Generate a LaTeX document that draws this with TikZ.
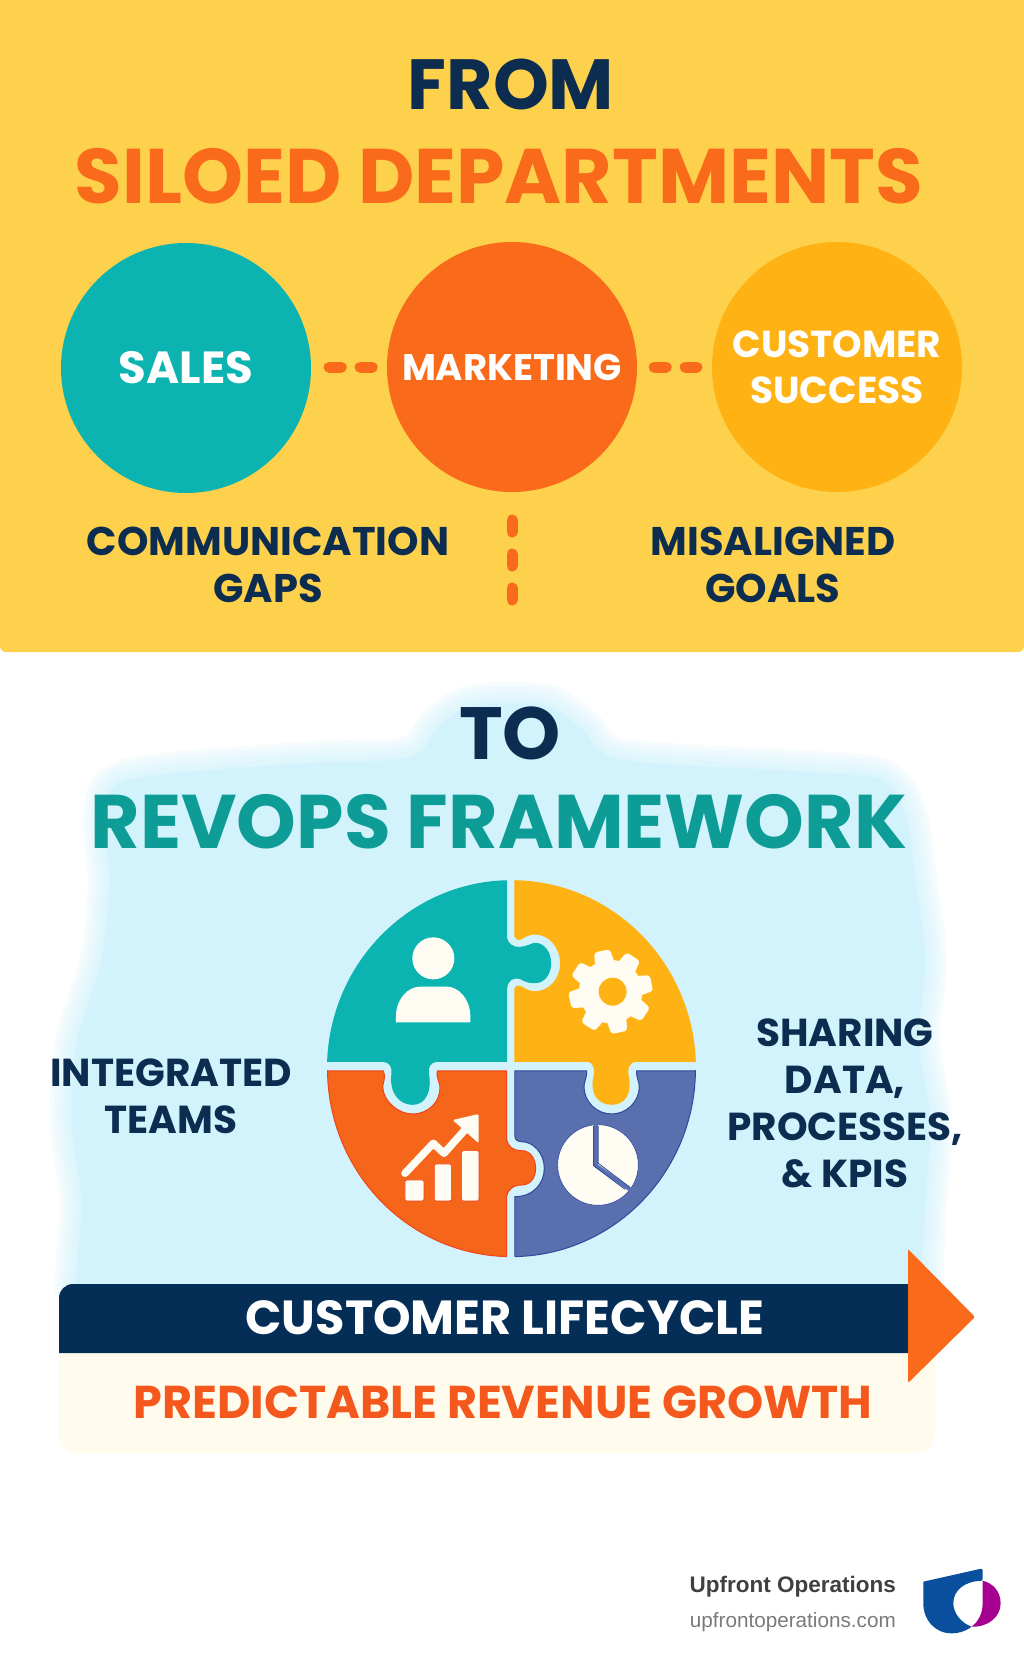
\documentclass[tikz,border=0pt]{standalone}
\usepackage{fontspec}
\setmainfont{Poppins}
\newfontfamily\footfont{Liberation Sans}
\definecolor{panelyellow}{HTML}{FDD14C}
\definecolor{navyink}{HTML}{0C2D50}
\definecolor{barnavy}{HTML}{052E57}
\definecolor{hotorange}{HTML}{F96B1A}
\definecolor{tealfill}{HTML}{0BB4B1}
\definecolor{amberfill}{HTML}{FFB213}
\definecolor{tealtitle}{HTML}{0E9C96}
\definecolor{skyglow}{HTML}{D2F3FC}
\definecolor{creamfill}{HTML}{FFFCEE}
\definecolor{iconcream}{HTML}{FFFDF3}
\definecolor{slatefill}{HTML}{5A6FAE}
\definecolor{slateline}{HTML}{2F4A9E}
\definecolor{chartorange}{HTML}{F5661A}
\definecolor{chartline}{HTML}{F2431A}
\definecolor{redtext}{HTML}{F4581C}
\definecolor{logoblue}{HTML}{0A4F9E}
\definecolor{logopurple}{HTML}{A5008F}
\newcommand{\glowpath}{plot[smooth cycle,tension=.5] coordinates {(440,726) (475,706) (545,706) (582,730) (620,760) (800,772) (880,780) (905,815) (915,880) (925,960) (918,1040) (930,1120) (925,1200) (922,1260) (920,1320) (880,1340) (120,1340) (78,1320) (78,1260) (82,1200) (72,1120) (78,1040) (102,960) (110,880) (105,815) (130,780) (300,764) (410,758)}}
\newcommand{\puzzleclip}{\clip (634.5,626) ellipse [x radius=552,y radius=564];}
\begin{document}
\begin{tikzpicture}[x=1pt,y=-1pt,
  heading/.style={font=\bfseries\fontsize{#1}{#1}\selectfont},
  caps/.style={font=\bfseries\fontsize{#1}{47}\selectfont,align=center,text=navyink},
  silo/.style={circle,minimum size=250,inner sep=0pt,text=white,align=center,font=\bfseries\fontsize{#1}{46}\selectfont},
  gapdash/.style={hotorange,line width=11,line cap=round,dash pattern=on 12 off 19},
  piece/.style={line width=1}]
\useasboundingbox (0,0) rectangle (1024,1666);
\fill[white] (0,0) rectangle (1024,1666);
% top panel
\fill[panelyellow,rounded corners=6] (0,-20) rectangle (1024,652);
\node[heading=71,text=navyink] (from) at (511,84) {FROM};
\node[heading=77.5,text=hotorange] (siloed) at (499,176) {SILOED DEPARTMENTS};
\node[silo=45,fill=tealfill] (sales) at (186,368) {SALES};
\node[silo=37,fill=hotorange] (marketing) at (512,367) {MARKETING};
\node[silo=37.5,fill=amberfill] (success) at (837,367) {CUSTOMER\\SUCCESS};
\draw[gapdash,shorten <=18,shorten >=9] (sales.east |- marketing) -- (marketing.west);
\draw[gapdash,shorten <=17,shorten >=15] (marketing.east) -- (success.west |- marketing);
\coordinate (gapa) at (512,520);
\coordinate (gapb) at (512,600);
\draw[gapdash,dash pattern=on 12 off 22] (gapa) -- (gapb);
\node[caps=40] (commgaps) at (268,565) {COMMUNICATION\\GAPS};
\node[caps=40] (misgoals) at (773,565) {MISALIGNED\\GOALS};
% soft glow behind the framework
\begin{scope}
\clip (0,640) rectangle (1024,1296);
\foreach \w in {44,36,28,20,12,4}
  \path[fill=skyglow,draw=skyglow,opacity=.2,line width=\w] \glowpath;
\fill[skyglow] \glowpath;
\end{scope}
\node[heading=74,text=navyink] (to) at (510,733) {TO};
\node[heading=76,text=tealtitle] (revops) at (499,822) {REVOPS FRAMEWORK};
% puzzle, in 3x crop units
\begin{scope}[shift={(300,860)},x=0.3333pt,y=-0.3333pt]
\begin{scope}
\puzzleclip
\path[piece,fill=tealfill,draw=tealfill] (620,0) -- (0,0) -- (0,604) -- (250,604) .. controls (270,606) and (278,620) .. (276,640) .. controls (268,700) and (300,733) .. (338,733) .. controls (378,733) and (395,690) .. (385,640) .. controls (382,620) and (392,606) .. (410,604) -- (620,604) -- (620,385) .. controls (622,360) and (640,350) .. (660,355) .. controls (680,368) and (695,368) .. (705,368) .. controls (735,368) and (752,340) .. (752,310) .. controls (752,280) and (735,250) .. (705,250) .. controls (695,250) and (680,262) .. (660,262) .. controls (640,265) and (622,250) .. (620,235) -- cycle;
\path[piece,fill=amberfill,draw=amberfill] (645,0) -- (1250,0) -- (1250,604) -- (1005,604) .. controls (988,606) and (980,625) .. (985,650) .. controls (995,700) and (975,733) .. (935,733) .. controls (895,733) and (870,700) .. (882,650) .. controls (887,625) and (880,606) .. (865,604) -- (645,604) -- (645,385) .. controls (650,375) and (660,378) .. (668,382) .. controls (680,392) and (695,395) .. (705,395) .. controls (750,395) and (782,355) .. (782,310) .. controls (782,265) and (750,222) .. (705,222) .. controls (695,222) and (680,226) .. (668,234) .. controls (660,240) and (650,240) .. (645,230) -- cycle;
\path[piece,fill=chartorange,draw=chartline] (0,633) -- (250,633) .. controls (258,650) and (250,665) .. (248,680) .. controls (250,725) and (295,762) .. (338,762) .. controls (385,762) and (422,725) .. (420,680) .. controls (418,665) and (408,650) .. (412,633) -- (620,633) -- (620,835) .. controls (622,860) and (640,872) .. (665,872) .. controls (690,872) and (707,895) .. (707,925) .. controls (707,955) and (690,975) .. (665,975) .. controls (640,975) and (622,990) .. (620,1010) -- (620,1250) -- (0,1250) -- cycle;
\path[piece,fill=slatefill,draw=slateline] (645,633) -- (860,633) .. controls (862,650) and (852,665) .. (852,680) .. controls (852,725) and (890,762) .. (935,762) .. controls (980,762) and (1018,725) .. (1018,680) .. controls (1018,665) and (1008,650) .. (1010,633) -- (1250,633) -- (1250,1250) -- (645,1250) -- (645,1010) .. controls (700,1010) and (733,970) .. (733,925) .. controls (733,880) and (700,845) .. (665,845) .. controls (655,845) and (645,840) .. (645,830) -- cycle;
\end{scope}
\foreach \xa/\ya/\xb/\yb/\c in {0/0/620/604/tealfill,645/0/1250/604/amberfill,0/633/620/1250/chartline,645/633/1250/1250/slateline}{
  \begin{scope}
  \clip (\xa,\ya) rectangle (\xb,\yb);
  \draw[\c,line width=1] (634.5,626) ellipse [x radius=552,y radius=564];
  \end{scope}
}
% person
\fill[iconcream] (400,295) circle [radius=63];
\fill[iconcream] (288,487) -- (288,465) .. controls (290,415) and (325,380) .. (360,380) -- (440,380) .. controls (475,380) and (509,415) .. (511,465) -- (511,487) -- cycle;
% gear
\foreach \a in {0,45,...,315}
  \fill[iconcream,rounded corners=3pt,shift={(932,395)},rotate=\a+12] (-32,70) -- (-24,125) -- (24,125) -- (32,70) -- cycle;
\fill[iconcream] (932,395) circle [radius=95];
\fill[amberfill] (938,395) circle [radius=42];
% bars and arrow
\foreach \xa/\ya/\xb in {315/960/372,403/912/454,485/872/537}
  \filldraw[fill=iconcream,draw=chartline,line width=.6,rounded corners=2pt] (\xa,\ya) rectangle (\xb,1023);
\draw[iconcream,line width=7.5pt,line cap=round,line join=round] (315,940) -- (400,850) -- (432,880) -- (508,795);
\fill[iconcream,rounded corners=2pt] (458,780) -- (536,762) -- (536,850) -- cycle;
% pie
\filldraw[fill=iconcream,draw=slateline,line width=.6] (894,915) circle [radius=121];
\draw[slatefill,line width=4pt] (888,785) -- (888,917) -- (992,990);
\draw[slateline,line width=.8] (881,798) -- (881,917) -- (975,988);
\draw[slateline,line width=.8] (895,798) -- (895,910) -- (990,982);
\end{scope}
\node[caps=39] (integrated) at (171,1096) {INTEGRATED\\TEAMS};
\node[caps=39] (sharing) at (845,1103) {SHARING\\DATA,\\PROCESSES,\\\& KPIS};
% lifecycle bar
\fill[creamfill,rounded corners=18] (59,1340) rectangle (935,1453);
\fill[barnavy] (59,1353) [rounded corners=14] -- (59,1284) [sharp corners] -- (908,1284) -- (908,1353) -- cycle;
\fill[hotorange,rounded corners=2] (908,1249) -- (975,1317) -- (908,1383) -- cycle;
\node[heading=47.8,text=white] (lifecycle) at (505,1318) {CUSTOMER LIFECYCLE};
\node[heading=46,text=redtext] (growth) at (503,1402) {PREDICTABLE REVENUE GROWTH};
% footer and logo
\node[anchor=east,inner sep=0pt,text=black!75,font=\footfont\bfseries\fontsize{22.5}{24}\selectfont] (brand) at (896,1587) {Upfront Operations};
\node[anchor=east,inner sep=0pt,text=black!52,font=\footfont\fontsize{20.7}{21}\selectfont] (site) at (896,1622) {upfrontoperations.com};
\begin{scope}[shift={(660,1540)},x=0.3333pt,y=-0.3333pt]
\fill[logoblue,rounded corners=2pt] (790,125) -- (968,85) -- (968,122) -- (965,122) [sharp corners] .. controls (915,125) and (880,150) .. (880,190) .. controls (880,220) and (905,250) .. (935,260) .. controls (915,275) and (895,280) .. (875,280) .. controls (825,280) and (790,240) .. (790,190) -- cycle;
\fill[logopurple] (968,122) .. controls (1000,130) and (1022,155) .. (1022,190) .. controls (1022,230) and (985,262) .. (935,260) .. controls (955,245) and (968,220) .. (968,190) -- cycle;
\end{scope}
\end{tikzpicture}
\end{document}
